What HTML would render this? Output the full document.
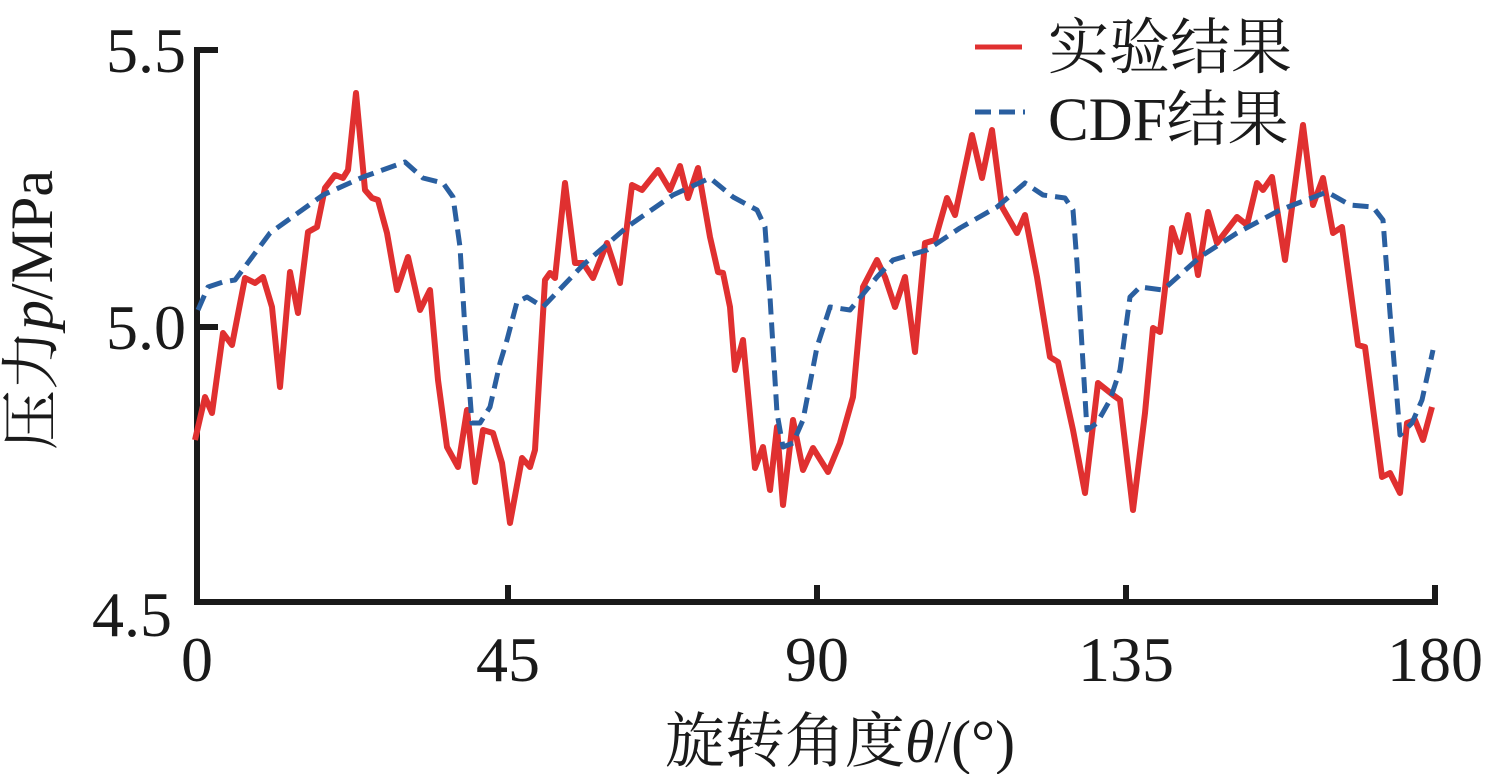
<!DOCTYPE html>
<html><head><meta charset="utf-8"><style>
html,body{margin:0;padding:0;background:#fff;}
svg{display:block;}
text{font-family:"Liberation Serif","Noto Serif CJK SC","Noto Sans CJK SC",serif;fill:#1a1a1a;}
</style></head><body>
<svg width="1492" height="774" viewBox="0 0 1492 774" xmlns="http://www.w3.org/2000/svg">
<g stroke="#1a1a1a" stroke-width="6" fill="none" stroke-linecap="square">
<path d="M197,50 V602 H1435"/>
<path d="M197,50 H215 M197,327 H215"/>
<path d="M508,602 V588 M817,602 V588 M1126,602 V588 M1435,602 V588"/>
</g>
<g font-size="64" text-anchor="end">
<text x="186" y="72">5.5</text>
<text x="186" y="349">5.0</text>
<text x="172" y="636">4.5</text>
</g>
<g font-size="64" text-anchor="middle">
<text x="197" y="681">0</text>
<text x="508" y="681">45</text>
<text x="817" y="681">90</text>
<text x="1126" y="681">135</text>
<text x="1435" y="681">180</text>
</g>
<text x="840" y="762" font-size="60" text-anchor="middle">旋转角度<tspan font-style="italic">θ</tspan>/(°)</text>
<text transform="translate(52,310) rotate(-90)" font-size="60" text-anchor="middle">压力<tspan font-style="italic">p</tspan>/MPa</text>
<line x1="975" y1="47" x2="1022" y2="47" stroke="#e03030" stroke-width="5"/>
<text x="1048" y="68" font-size="61">实验结果</text>
<line x1="975" y1="112" x2="1025" y2="112" stroke="#2a5fa0" stroke-width="5" stroke-dasharray="16,8"/>
<text x="1048" y="140" font-size="61">CDF结果</text>
<polyline fill="none" stroke="#e03030" stroke-width="6" stroke-linejoin="round" points="195,440 205,397 212,413 223,333 232,345 245,278 255,283 263,277 272,307 280,387 290,272 298,313 308,232 317,227 325,188 335,175 343,178 348,170 356,93 365,190 372,198 378,200 387,233 397,290 408,257 420,310 430,290 438,380 447,447 458,467 467,410 475,482 483,430 493,433 502,463 510,523 522,458 530,467 535,450 545,280 550,273 555,278 565,183 575,263 583,263 593,278 607,243 620,283 632,185 642,190 658,170 670,190 680,166 688,198 698,168 710,237 718,272 723,273 730,307 735,370 743,340 755,468 763,447 770,490 777,427 783,505 793,420 803,470 813,448 828,472 840,443 853,397 863,287 877,260 885,277 895,307 905,277 915,352 925,243 935,240 947,198 955,215 972,135 982,178 992,130 1002,207 1017,233 1025,215 1037,277 1050,357 1058,362 1073,430 1085,493 1098,383 1113,395 1120,400 1133,510 1145,413 1153,328 1160,332 1172,228 1180,252 1188,215 1198,275 1208,212 1217,243 1237,217 1247,225 1257,183 1263,190 1272,177 1285,260 1303,125 1313,205 1323,178 1333,233 1342,227 1358,345 1365,347 1382,477 1390,473 1400,493 1407,423 1415,420 1423,440 1432,407"/>
<polyline fill="none" stroke="#2a5fa0" stroke-width="5" stroke-dasharray="16,8" stroke-linejoin="round" points="198,310 208,287 223,282 235,280 270,233 323,195 363,177 405,162 423,178 443,183 453,197 460,247 465,330 472,423 480,423 490,407 500,363 507,340 517,302 527,297 543,307 583,265 627,227 673,195 710,178 733,197 757,210 765,227 770,297 777,413 783,447 793,443 803,420 817,347 830,307 850,310 877,277 893,260 927,250 960,228 997,207 1025,183 1043,195 1065,198 1073,210 1077,263 1087,430 1097,423 1110,400 1120,370 1130,297 1140,287 1163,290 1200,257 1237,233 1280,210 1327,192 1350,205 1373,207 1383,220 1390,313 1400,435 1412,423 1422,400 1433,350"/>
</svg>
</body></html>
